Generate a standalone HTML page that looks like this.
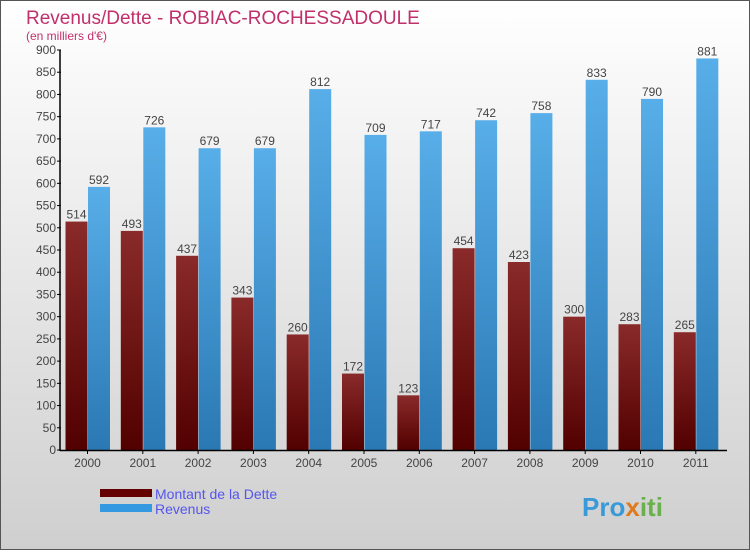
<!DOCTYPE html>
<html><head><meta charset="utf-8"><style>
body{margin:0}
svg text{font-family:"Liberation Sans",sans-serif}
</style></head><body>
<svg id="c" width="750" height="550" xmlns="http://www.w3.org/2000/svg">
<defs>
<linearGradient id="bg" x1="0" y1="0" x2="0" y2="1"><stop offset="0" stop-color="#ffffff"/><stop offset="1" stop-color="#cfcfcf"/></linearGradient>
<linearGradient id="gd" x1="0" y1="0" x2="0" y2="1"><stop offset="0" stop-color="#8a2a2a"/><stop offset="1" stop-color="#520000"/></linearGradient>
<linearGradient id="gr" x1="0" y1="0" x2="0" y2="1"><stop offset="0" stop-color="#58aee8"/><stop offset="1" stop-color="#2a78b4"/></linearGradient>
</defs>
<rect x="0.5" y="0.5" width="749" height="549" fill="url(#bg)" stroke="#555"/>
<text x="26" y="24" font-size="19" fill="#c0306a">Revenus/Dette - ROBIAC-ROCHESSADOULE</text>
<text x="26" y="40" font-size="12" fill="#c0306a">(en milliers d'€)</text>
<g id="plot"></g>
<rect x="100" y="489" width="52" height="8" fill="#650000"/>
<text x="155" y="499" font-size="14" fill="#5555ee">Montant de la Dette</text>
<rect x="100" y="504" width="52" height="8" fill="#3499e0"/>
<text x="155" y="514" font-size="14" fill="#5555ee">Revenus</text>
<text x="582" y="516" font-size="26" font-weight="bold" fill="#3a9ad9">Pro<tspan fill="#e07a20">x</tspan><tspan fill="#6ab04c">iti</tspan></text>
</svg>
<script>
const years=["2000","2001","2002","2003","2004","2005","2006","2007","2008","2009","2010","2011"];
const dette=[514,493,437,343,260,172,123,454,423,300,283,265];
const revenus=[592,726,679,679,812,709,717,742,758,833,790,881];
const ticks=[0,50,100,150,200,250,300,350,400,450,500,550,600,650,700,750,800,850,900];
const NS="http://www.w3.org/2000/svg";
const g=document.getElementById('plot');
const y=v=>450-v*400/900;
const xc=i=>87.5+i*55.3;
function el(t,a){const e=document.createElementNS(NS,t);for(const k in a)e.setAttribute(k,a[k]);g.appendChild(e);return e;}
years.forEach((yr,i)=>{
 const d=el('rect',{x:xc(i)-22,y:y(dette[i]),width:22,height:450-y(dette[i]),fill:'url(#gd)'});
 
 
 const r=el('rect',{x:xc(i)+0.5,y:y(revenus[i]),width:22,height:450-y(revenus[i]),fill:'url(#gr)'});
 
 
 const t1=el('text',{x:xc(i)-11,y:y(dette[i])-3,'font-size':12,fill:'#444','text-anchor':'middle'});t1.textContent=dette[i];
 
 
 const t2=el('text',{x:xc(i)+11.5,y:y(revenus[i])-3,'font-size':12,fill:'#444','text-anchor':'middle'});t2.textContent=revenus[i];
 
 
 const tx=el('text',{x:xc(i),y:467,'font-size':12,fill:'#444','text-anchor':'middle'});tx.textContent=yr;
 
 
 el('line',{x1:xc(i),x2:xc(i),y1:450,y2:454,stroke:'#000'});
});
ticks.forEach(v=>{
 el('line',{x1:57,x2:61,y1:y(v),y2:y(v),stroke:'#000'});
 const t=el('text',{x:56,y:y(v)+4,'font-size':12,fill:'#444','text-anchor':'end'});t.textContent=v;
 
 
});
const ax=el('line',{x1:60,x2:60,y1:50,y2:451,stroke:'#000','stroke-width':1.5});


const bx=el('line',{x1:60,x2:727,y1:450.5,y2:450.5,stroke:'#000','stroke-width':1.5});


</script>
</body></html>
